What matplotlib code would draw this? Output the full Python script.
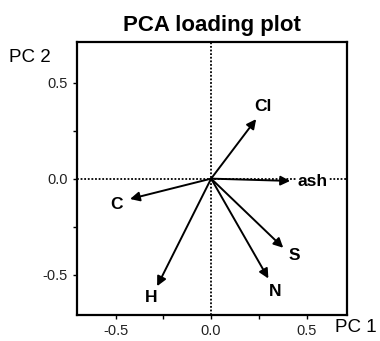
import matplotlib
matplotlib.use("Agg")
import matplotlib.pyplot as plt

plt.rcParams['font.family'] = ['Liberation Sans', 'DejaVu Sans']

# loadings
names = ['Cl', 'ash', 'C', 'H', 'N', 'S']
pc1 = [0.236, 0.414, -0.425, -0.283, 0.300, 0.378]
pc2 = [0.310, -0.012, -0.106, -0.560, -0.520, -0.360]
# label positions (data coords)
lab_x = [0.273, 0.530, -0.494, -0.315, 0.335, 0.437]
lab_y = [0.378, -0.015, -0.133, -0.617, -0.590, -0.400]

fig = plt.figure(figsize=(3.8, 3.41), dpi=100)
ax = fig.add_axes([0.2026, 0.0762, 0.711, 0.801])

ax.axhline(0, color='black', linestyle=(0, (1, 1)), linewidth=1.3, zorder=1)
ax.axvline(0, color='black', linestyle=(0, (1, 1)), linewidth=1.3, zorder=1)

for i in range(len(names)):
    ax.annotate('', xy=(pc1[i], pc2[i]), xytext=(0, 0),
                arrowprops=dict(arrowstyle='-|>', color='black', lw=1.4,
                                mutation_scale=14, shrinkA=0, shrinkB=0),
                zorder=3)
    ax.text(lab_x[i], lab_y[i], names[i], ha='center', va='center',
            fontsize=12.5, fontweight='bold', zorder=4,
            bbox=dict(facecolor='white', edgecolor='none', pad=0.5))

ax.set_xlim(-0.703, 0.713)
ax.set_ylim(-0.71, 0.712)
ax.set_xticks([-0.5, -0.25, 0.0, 0.25, 0.5])
ax.set_xticklabels(['-0.5', '', '0.0', '', '0.5'])
ax.set_yticks([-0.5, -0.25, 0.0, 0.25, 0.5])
ax.set_yticklabels(['-0.5', '', '0.0', '', '0.5'])
ax.tick_params(direction='out', length=3, width=1, labelsize=10.5, colors='black', labelcolor='#222222')
for s in ax.spines.values():
    s.set_linewidth(1.6)

ax.set_title('PCA loading plot', fontsize=16, fontweight='bold', pad=8)
fig.text(30 / 380, 1 - 57 / 341, 'PC 2', fontsize=13.5, ha='center', va='center')
fig.text(356 / 380, 1 - 327 / 341, 'PC 1', fontsize=13.5, ha='center', va='center')

fig.savefig('out.png', dpi=100)
